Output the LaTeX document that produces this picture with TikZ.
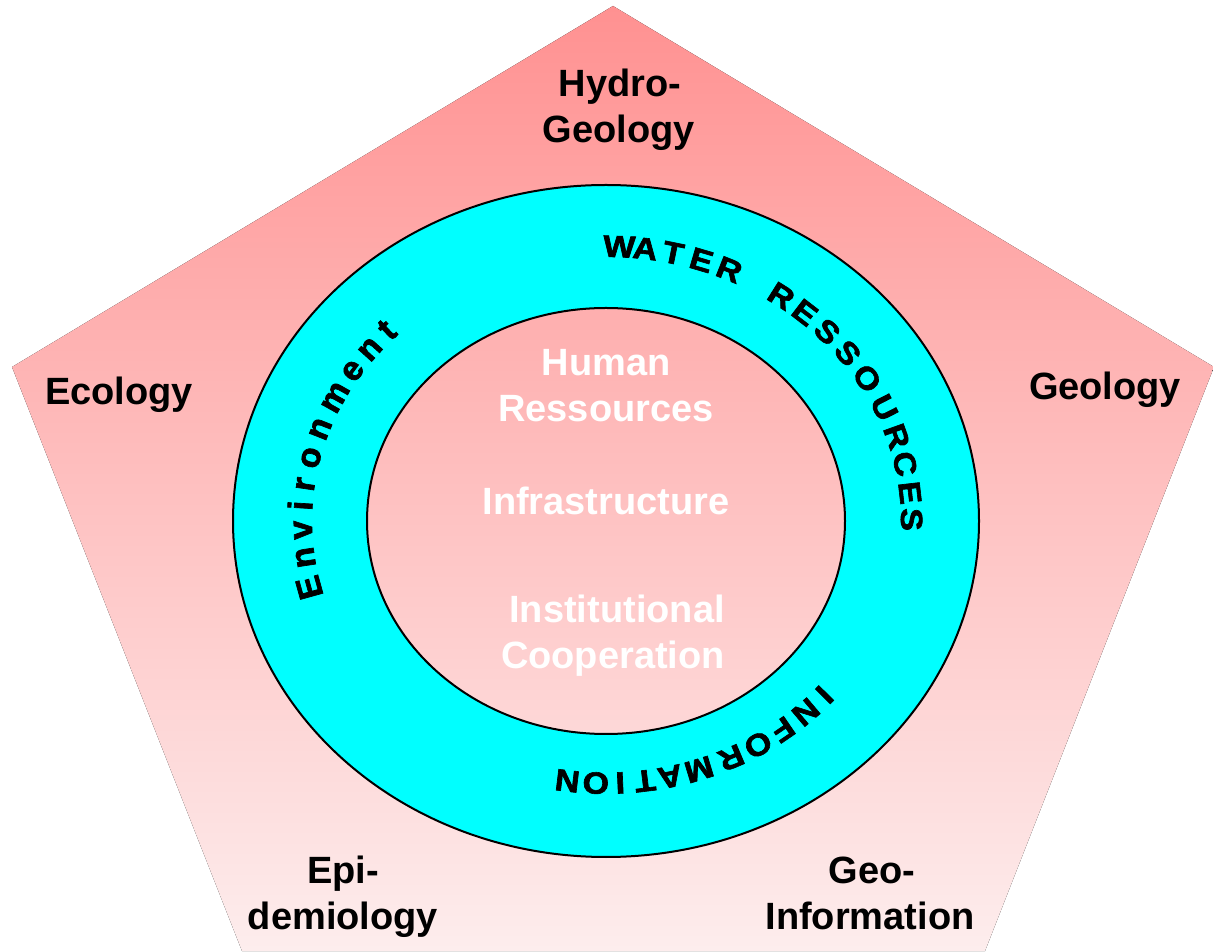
\documentclass[tikz,border=0pt]{standalone}
\usepackage{fontspec}
\setmainfont{Liberation Sans}
\newfontfamily\ringfont{Liberation Sans}[BoldFeatures={FakeBold=2}]
\definecolor{pentop}{RGB}{255,145,145}
\definecolor{penbot}{RGB}{253,237,237}
\definecolor{ringcyan}{RGB}{0,255,255}
\begin{document}
\begin{tikzpicture}[x=1pt,y=1pt,
  lbl/.style={font=\bfseries\fontsize{38}{46}\selectfont, anchor=base, inner sep=0pt},
  inlbl/.style={lbl, text=white},
  capletter/.style={font=\ringfont\bfseries\fontsize{34}{38}\selectfont, inner sep=0pt, text depth=0pt, text height=24.3pt, yscale=0.9},
  lowletter/.style={font=\ringfont\bfseries\fontsize{34}{38}\selectfont, inner sep=0pt, text depth=0pt, text height=17.6pt},
  outline/.style={draw=black, line width=2pt}]
\useasboundingbox (0,0) rectangle (1213,951);
% pentagon background
\fill[top color=pentop, bottom color=penbot]
  (613,945) -- (1214,584) -- (985,0) -- (242,0) -- (12,584) -- cycle;
% ring
\coordinate (c) at (606,430);
\fill[ringcyan, even odd rule]
  (c) ellipse [x radius=373pt, y radius=336pt]
  (c) ellipse [x radius=239pt, y radius=213pt];
\draw[outline] (c) ellipse [x radius=373pt, y radius=336pt];
\draw[outline] (c) ellipse [x radius=239pt, y radius=213pt];
% WATER RESSOURCES
\foreach \ch/\t [count=\i] in {W/87.5, A/82.6, T/77.3, E/71.8, R/66.2, R/55.0, E/49.4, S/43.6, S/37.7, O/31.3, U/24.4, R/17.9, C/12.0, E/5.9, S/0.3} {
  \pgfmathsetmacro\rot{atan2(306*sin(\t), 275*cos(\t))-90}
  \node[rotate=\rot, capletter] (wr\i) at ({606+306*cos(\t)}, {430+275*sin(\t)}) {\ch};
}
% Environment
\foreach \ch/\t [count=\i] in {E/194.0, n/187.7, v/181.9, i/176.8, r/172.3, o/166.6, n/160.3, m/153.1, e/146.6, n/141.0, t/135.9} {
  \pgfmathsetmacro\rot{atan2(306*sin(\t), 275*cos(\t))-90}
  \node[rotate=\rot, lowletter] (env\i) at ({606+0.99*306*cos(\t)}, {430+0.99*275*sin(\t)}) {\ch};
}
% INFORMATION
\foreach \ch/\t [count=\i] in {I/-41.5, N/-46.8, F/-52.7, O/-58.6, R/-64.6, M/-71.4, A/-77.3, T/-82.3, I/-87.2, O/-92.0, N/-97.6} {
  \pgfmathsetmacro\rot{atan2(306*sin(\t), 275*cos(\t))-90}
  \node[rotate=\rot, capletter] (inf\i) at ({606+0.955*306*cos(\t)}, {430+0.955*275*sin(\t)}) {\ch};
}
% outer labels
\node[lbl] (hydroA) at (620,854) {Hydro-};
\node[lbl] (hydroB) at (619,808) {Geology};
\node[lbl] (ecology) at (119,546) {Ecology};
\node[lbl] (geology) at (1105,551) {Geology};
\node[lbl] (epiA) at (343,68) {Epi-};
\node[lbl] (epiB) at (343,22) {demiology};
\node[lbl] (geoA) at (872,68) {Geo-};
\node[lbl] (geoB) at (870,22) {Information};
% inner labels
\node[inlbl] (humanA) at (606,575) {Human};
\node[inlbl] (humanB) at (606,529) {Ressources};
\node[inlbl] (infra) at (606,436) {Infrastructure};
\node[inlbl] (instA) at (617,328) {Institutional};
\node[inlbl] (instB) at (613,282) {Cooperation};
\end{tikzpicture}
\end{document}
